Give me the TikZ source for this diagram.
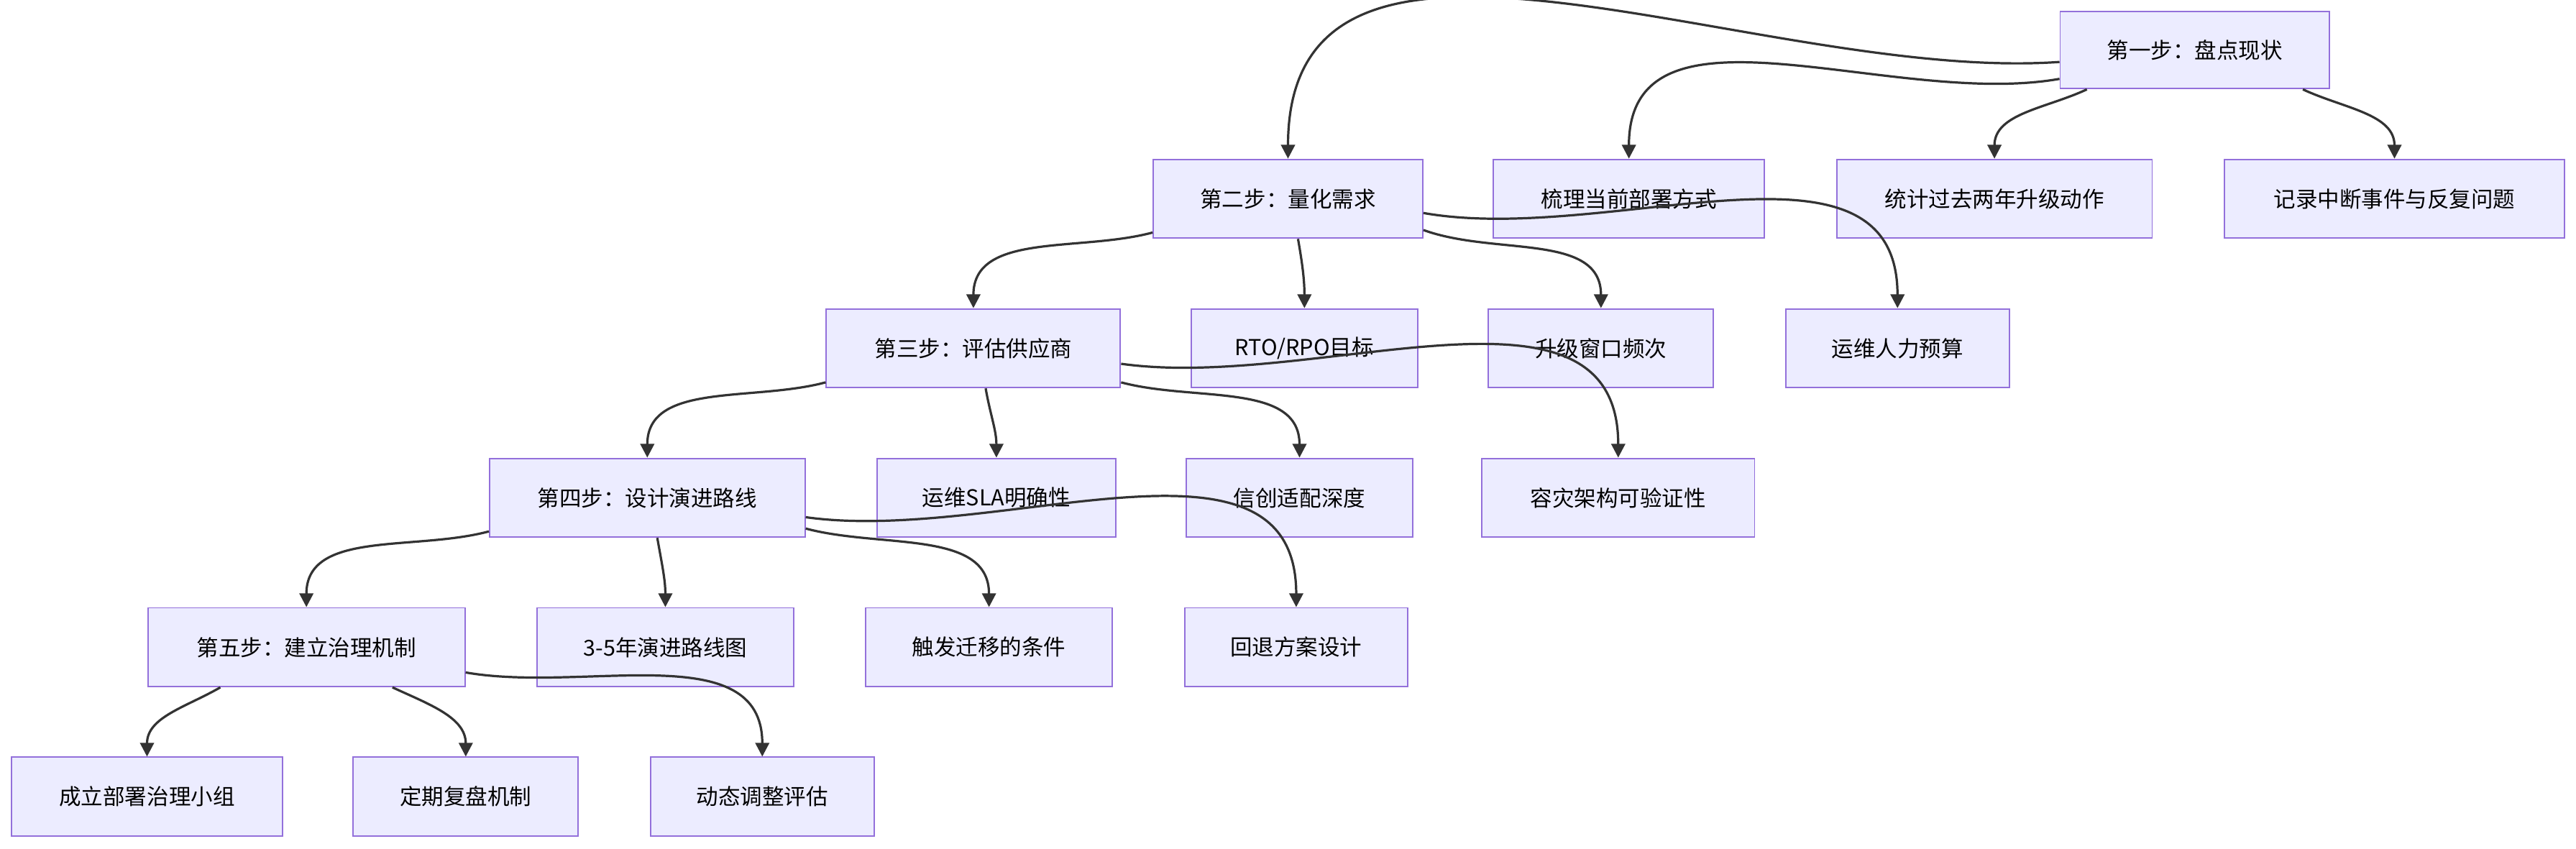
\documentclass[tikz,border=0pt]{standalone}
\usepackage{fontspec}
\setmainfont{Noto Sans CJK SC}
\usetikzlibrary{arrows.meta}
\definecolor{nf}{HTML}{ECECFF}
\definecolor{nb}{HTML}{9370DB}
\definecolor{ed}{HTML}{333333}
\tikzset{box/.style={draw=nb,fill=nf,line width=1.2pt,inner sep=0pt,font=\fontsize{19}{23}\selectfont,text=black},
 edge/.style={draw=ed,line width=2pt,-{Triangle[length=4.2mm,width=4.2mm]}}}
\newcommand{\nd}[6]{\node[box,minimum width={(#4-#2)*0.5mm},minimum height={(#5-#3)*0.5mm}] (#1) at ({(#2+#4)/2},{-(#3+#5)/2}) {#6};}
\newcommand{\ed}[4]{\draw[edge] (#1.#2) to[out=#3,in=90] (#4.north);}
\begin{document}
\begin{tikzpicture}[x=0.5mm,y=0.5mm]
\useasboundingbox (0,0) rectangle (1568,-516.4);
\nd{a}{1254}{7}{1418}{54}{第一步：盘点现状}
\nd{b}{702}{97}{866}{145}{第二步：量化需求}
\nd{b1}{909}{97}{1074}{145}{梳理当前部署方式}
\nd{b2}{1118}{97}{1310}{145}{统计过去两年升级动作}
\nd{b3}{1354}{97}{1561}{145}{记录中断事件与反复问题}
\nd{c}{503}{188}{682}{236}{第三步：评估供应商}
\nd{c1}{725}{188}{863}{236}{RTO/RPO目标}
\nd{c2}{906}{188}{1043}{236}{升级窗口频次}
\nd{c3}{1087}{188}{1223}{236}{运维人力预算}
\nd{d}{298}{279}{490}{327}{第四步：设计演进路线}
\nd{d1}{534}{279}{679}{327}{运维SLA明确性}
\nd{d2}{722}{279}{860}{327}{信创适配深度}
\nd{d3}{902}{279}{1068}{327}{容灾架构可验证性}
\nd{e}{90}{370}{283}{418}{第五步：建立治理机制}
\nd{e1}{327}{370}{483}{418}{3-5年演进路线图}
\nd{e2}{527}{370}{677}{418}{触发迁移的条件}
\nd{e3}{721}{370}{857}{418}{回退方案设计}
\nd{f1}{7}{461}{172}{509}{成立部署治理小组}
\nd{f2}{215}{461}{352}{509}{定期复盘机制}
\nd{f3}{396}{461}{532}{509}{动态调整评估}
\begin{scope}[on background layer/.style={}]
\ed{a}{185}{184}{b}
\ed{a}{192}{190}{b1}
\ed{a}{200}{205}{b2}
\ed{a}{340}{335}{b3}
\ed{b}{194}{195}{c}
\ed{b}{284}{280}{c1}
\ed{b}{347}{340}{c2}
\ed{b}{354}{350}{c3}
\ed{c}{193}{195}{d}
\ed{c}{287}{280}{d1}
\ed{c}{347}{345}{d2}
\ed{c}{354}{352}{d3}
\ed{d}{192}{195}{e}
\ed{d}{284}{280}{e1}
\ed{d}{349}{345}{e2}
\ed{d}{353}{352}{e3}
\ed{e}{205}{210}{f1}
\ed{e}{335}{335}{f2}
\ed{e}{351}{350}{f3}
\end{scope}
\end{tikzpicture}
\end{document}
